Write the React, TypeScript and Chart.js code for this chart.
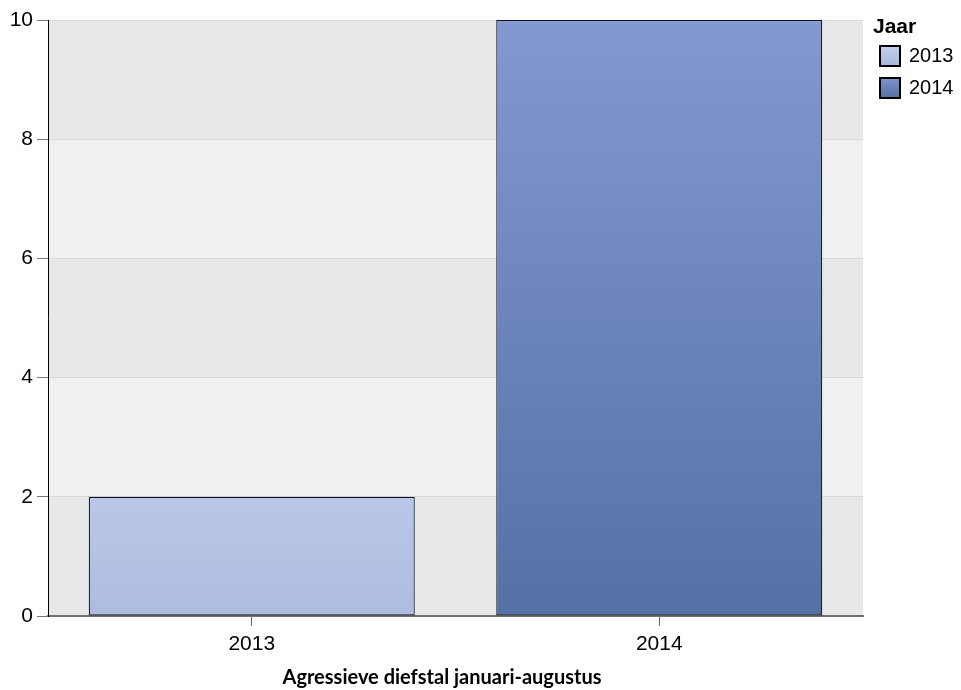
import React, { useEffect, useRef } from "react";
import { Chart, registerables } from "chart.js";

Chart.register(...registerables);

const categories = ["2013", "2014"];
const values = [2, 10];
const legendTitle = "Jaar";
const xTitle = "Agressieve diefstal januari-augustus";
const yMin = 0;
const yMax = 10;
const yStep = 2;

const barTop = ["#bbc7e8", "#8498d1"];
const barBottom = ["#acbcdf", "#5471a6"];
const swatchTop = ["#c4cfec", "#7f94cf"];
const swatchBottom = ["#a8b8dd", "#56729f"];

const FONT = "'Liberation Sans', Arial, sans-serif";

const bandsPlugin = {
  id: "bands",
  beforeDraw(chart: any) {
    const { ctx, chartArea } = chart;
    const y = chart.scales.y;
    if (!chartArea) return;
    ctx.save();
    for (let v = yMin, i = 0; v < yMax; v += yStep, i++) {
      const top = y.getPixelForValue(v + yStep);
      const bot = y.getPixelForValue(v);
      ctx.fillStyle = i % 2 === 0 ? "#e8e8e8" : "#f0f0f0";
      ctx.fillRect(chartArea.left, top, chartArea.right - chartArea.left, bot - top);
    }
    ctx.restore();
  },
};

const legendPlugin = {
  id: "customLegend",
  afterDraw(chart: any) {
    const { ctx } = chart;
    ctx.save();
    ctx.fillStyle = "#000";
    ctx.textBaseline = "middle";
    ctx.textAlign = "left";
    ctx.font = `bold 21px ${FONT}`;
    ctx.fillText(legendTitle, 873, 27);
    ctx.font = `20px ${FONT}`;
    categories.forEach((c, i) => {
      const sy = 46 + i * 32;
      const size = 20;
      const g = ctx.createLinearGradient(0, sy, 0, sy + size);
      g.addColorStop(0, swatchTop[i]);
      g.addColorStop(1, swatchBottom[i]);
      ctx.fillStyle = g;
      ctx.fillRect(880, sy, size, size);
      ctx.strokeStyle = "#000";
      ctx.lineWidth = 2;
      ctx.strokeRect(880, sy, size, size);
      ctx.fillStyle = "#000";
      ctx.fillText(c, 909, sy + size / 2);
    });
    // x-axis title
    ctx.textAlign = "center";
    ctx.font = `bold 20px Lato, 'Open Sans', sans-serif`;
    ctx.fillText(xTitle, 442, 678);
    ctx.restore();
  },
};

export default function App() {
  const ref = useRef<HTMLCanvasElement | null>(null);

  useEffect(() => {
    document.body.style.margin = "0";
    const canvas = ref.current;
    if (!canvas) return;
    const chart = new Chart(canvas, {
      type: "bar",
      data: {
        labels: categories,
        datasets: [
          {
            label: legendTitle,
            data: values,
            backgroundColor: (c: any) => {
              const ch = c.chart;
              const ys = ch.scales?.y;
              if (!ys || !ch.chartArea || c.dataIndex === undefined) return barTop[0];
              const i = c.dataIndex;
              const top = ys.getPixelForValue(values[i]);
              const bot = ys.getPixelForValue(0);
              const g = ch.ctx.createLinearGradient(0, top, 0, bot);
              g.addColorStop(0, barTop[i]);
              g.addColorStop(1, barBottom[i]);
              return g;
            },
            borderColor: "#0d1320",
            borderWidth: 1.2,
            borderSkipped: false,
            barPercentage: 0.8,
            categoryPercentage: 1,
          },
        ],
      },
      options: {
        animation: false,
        responsive: false,
        devicePixelRatio: 1,
        layout: { padding: { left: 0, right: 98, top: 20, bottom: 0 } },
        plugins: {
          legend: { display: false },
          tooltip: { enabled: false },
        },
        scales: {
          x: {
            afterFit: (s: any) => {
              s.height = 74;
            },
            grid: {
              display: true,
              drawOnChartArea: false,
              drawTicks: true,
              tickLength: 10,
              tickColor: "#666",
              offset: false,
            },
            border: { display: true, color: "#707070", width: 2 },
            ticks: {
              color: "#000",
              font: { family: FONT, size: 21 },
              padding: 6,
            },
          },
          y: {
            min: yMin,
            max: yMax,
            afterFit: (s: any) => {
              s.width = 48;
            },
            ticks: {
              stepSize: yStep,
              color: "#000",
              font: { family: FONT, size: 21 },
              padding: 4,
            },
            grid: {
              color: "#d8d8d8",
              tickColor: "#777",
              tickLength: 11,
              lineWidth: 1,
            },
            border: { display: true, color: "#000", width: 1 },
          },
        },
      },
      plugins: [bandsPlugin, legendPlugin],
    });
    return () => chart.destroy();
  }, []);

  return (
    <div style={{ width: 961, height: 690 }}>
      <canvas ref={ref} width={961} height={690} style={{ display: "block" }} />
    </div>
  );
}
